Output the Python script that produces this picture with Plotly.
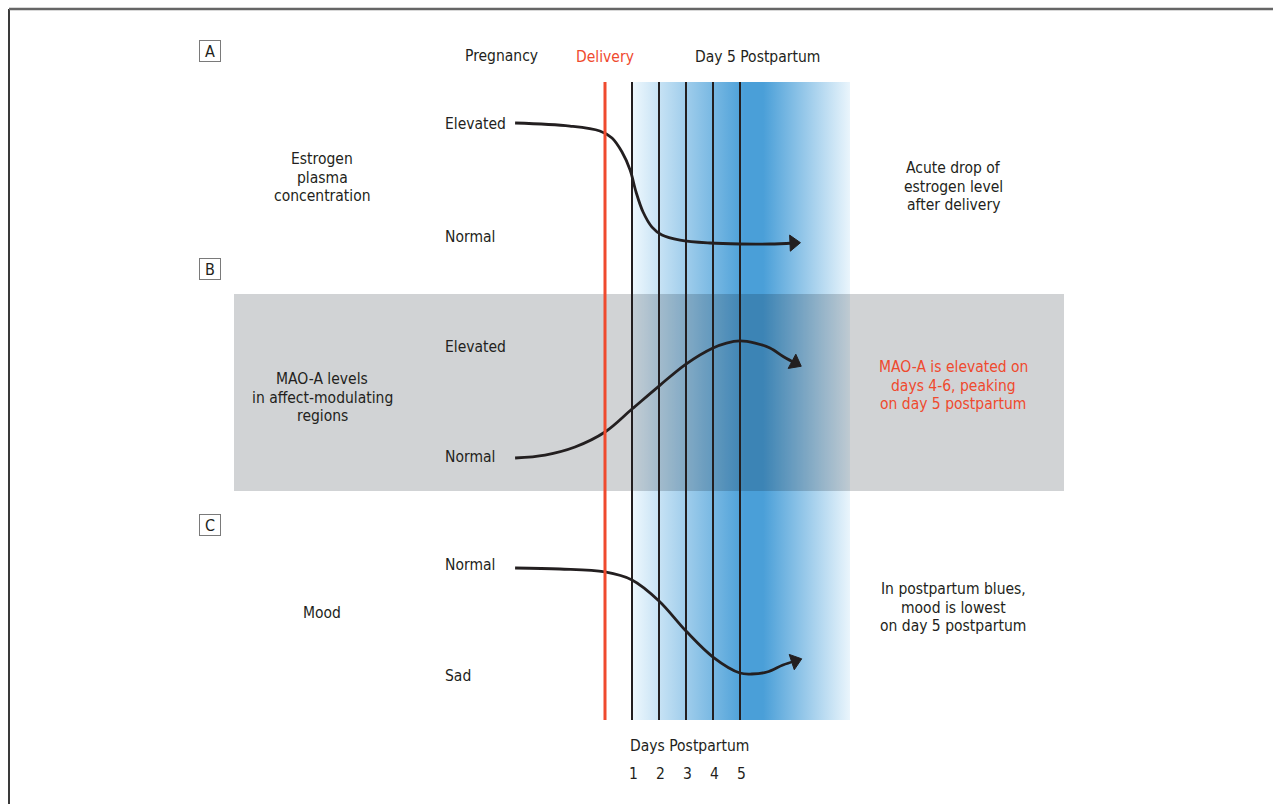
import plotly.graph_objects as go

W, H = 1273, 804

# ---------------- data ----------------
day_ticks = [1, 2, 3, 4, 5]
panel_letters = ["A", "B", "C"]

# Panel A: estrogen plasma concentration (level: 0 = Normal, 1 = Elevated)
estrogen_days = [-3.33, -1.30, -0.19, 0.26, 0.63, 0.93, 1.15, 1.41, 1.74, 2.11, 2.78, 3.89, 5.0, 6.11, 6.98]
estrogen_level = [1.009, 0.982, 0.938, 0.876, 0.752, 0.593, 0.398, 0.221, 0.088, 0.018, -0.027, -0.053, -0.062, -0.062, -0.053]

# Panel B: MAO-A levels (level: 0 = Normal, 1 = Elevated)
maoa_days = [-3.33, -2.22, -1.11, 0.0, 1.0, 2.0, 3.0, 4.0, 4.5, 5.0, 5.56, 6.11, 6.63, 7.04]
maoa_level = [-0.009, 0.018, 0.091, 0.227, 0.436, 0.645, 0.845, 0.991, 1.036, 1.055, 1.036, 0.991, 0.909, 0.855]

# Panel C: mood (level: 0 = Sad, 1 = Normal)
mood_days = [-3.33, -1.67, 0.0, 1.0, 2.0, 3.0, 4.0, 5.0, 5.44, 6.0, 6.59, 7.04]
mood_level = [0.973, 0.964, 0.937, 0.865, 0.676, 0.405, 0.171, 0.027, 0.018, 0.036, 0.099, 0.135]

level_labels = [["Elevated", "Normal"], ["Elevated", "Normal"], ["Normal", "Sad"]]
left_titles = [
    ["Estrogen", "plasma", "concentration"],
    ["MAO-A levels", "in affect-modulating", "regions"],
    ["Mood"],
]
right_notes = [
    ["Acute drop of", "estrogen level", "after delivery"],
    ["MAO-A is elevated on", "days 4-6, peaking", "on day 5 postpartum"],
    ["In postpartum blues,", "mood is lowest", "on day 5 postpartum"],
]

# ---------------- layout helpers ----------------
DELIVERY_PX = 605.0
DAY_PX = 27.0


def day(px):
    return (px - DELIVERY_PX) / DAY_PX


def fx(px):
    return px / W


def fy(py):
    return 1 - py / H


FONT = "Liberation Sans Narrow, Arial Narrow, DejaVu Sans Condensed, sans-serif"
INK = "#231f20"
RED = "#ef4a2e"
FS = 15.5

# pixel rows of level 1 / level 0 for each panel
panel_px = [(124, 237), (347, 457), (565, 676)]
left_title_y = [159, 379, 613]
right_note_y = [168, 367, 589]
letter_y = [51, 269, 525]

fig = go.Figure()

# blue gradient band (days 1 .. ~9), on the base (pixel-row) axis
g_left, g_right = day(633), day(850)
fig.add_trace(go.Scatter(
    x=[g_left, g_right, g_right, g_left, g_left],
    y=[82, 82, 720, 720, 82],
    xaxis="x", yaxis="y",
    mode="lines", line=dict(width=0), fill="toself",
    fillgradient=dict(type="horizontal", start=g_left, stop=g_right,
                      colorscale=[[0, "#edf7fd"], [0.515, "#4a9fd8"],
                                  [0.60, "#4a9fd8"], [1, "#eaf5fc"]]),
    hoverinfo="skip", showlegend=False))

# gray band of panel B (translucent, darkens blue underneath)
b_l, b_r = day(234), day(1064)
fig.add_trace(go.Scatter(
    x=[b_l, b_r, b_r, b_l, b_l], y=[294, 294, 491, 491, 294],
    xaxis="x", yaxis="y", mode="lines", line=dict(width=0),
    fill="toself", fillcolor="rgba(0,10,22,0.18)",
    hoverinfo="skip", showlegend=False))

series = [(estrogen_days, estrogen_level, "y2"),
          (maoa_days, maoa_level, "y3"),
          (mood_days, mood_level, "y4")]
for xs, ys, ax in series:
    n = len(xs)
    fig.add_trace(go.Scatter(
        x=xs, y=ys, xaxis="x", yaxis=ax, mode="lines+markers",
        line=dict(color=INK, width=2.8, shape="spline", smoothing=1.0),
        marker=dict(symbol="triangle-up", angleref="previous",
                    size=[0] * (n - 1) + [14], color=INK,
                    line=dict(width=1, color=INK), opacity=1),
        hoverinfo="skip", showlegend=False))

shapes = []
# frame
shapes.append(dict(type="line", xref="paper", yref="paper", x0=fx(9), x1=fx(9),
                   y0=0, y1=fy(9), line=dict(color="#3a3a3a", width=2)))
shapes.append(dict(type="line", xref="paper", yref="paper", x0=fx(9), x1=1,
                   y0=fy(9), y1=fy(9), line=dict(color="#666666", width=2.5)))
# delivery line
shapes.append(dict(type="line", xref="x", yref="paper", x0=0, x1=0,
                   y0=fy(720), y1=fy(82), line=dict(color=RED, width=3),
                   layer="above"))
for d in day_ticks:
    shapes.append(dict(type="line", xref="x", yref="paper", x0=d, x1=d,
                       y0=fy(720), y1=fy(82), line=dict(color=INK, width=2),
                       layer="above"))

ann = []


def text(px, py, s, color=INK, anchor="center", size=FS):
    ann.append(dict(xref="paper", yref="paper", x=fx(px), y=fy(py), text=s,
                    showarrow=False, xanchor=anchor, yanchor="middle",
                    font=dict(family=FONT, size=size, color=color)))


def lines(px, py0, items, color=INK, spacing=18.5):
    for i, s in enumerate(items):
        text(px, py0 + i * spacing, s, color=color)


text(501, 56, "Pregnancy")
text(605, 57, "Delivery", color=RED)
text(757, 57, "Day 5 Postpartum")

yaxes = {"yaxis": dict(domain=[0, 1], range=[H, 0], visible=False,
                       fixedrange=True, anchor="x")}
for i in range(3):
    p1, p0 = panel_px[i]
    span = p0 - p1
    name = f"yaxis{i + 2}"
    yaxes[name] = dict(range=[(p0 - H) / span, p0 / span],
                       visible=False, fixedrange=True, anchor="x",
                       overlaying="y")
    yref = f"y{i + 2}"
    for lvl, lab in zip([1, 0], level_labels[i]):
        ann.append(dict(xref="x", yref=yref, x=day(443), y=lvl, text=lab,
                        showarrow=False, xanchor="left", yanchor="middle",
                        font=dict(family=FONT, size=FS, color=INK)))
    lines(322, left_title_y[i], left_titles[i])
    lines(953, right_note_y[i], right_notes[i], color=RED if i == 1 else INK)
    ann.append(dict(xref="paper", yref="paper", x=fx(210), y=fy(letter_y[i]),
                    text=panel_letters[i], showarrow=False,
                    xanchor="center", yanchor="middle",
                    width=20, height=20, borderwidth=1, bordercolor="#7a7a7a",
                    borderpad=0,
                    font=dict(family=FONT, size=16, color=INK)))

text(689, 746, "Days Postpartum")
for d in day_ticks:
    ann.append(dict(xref="x", yref="paper", x=d + 0.07, y=fy(774), text=str(d),
                    showarrow=False, xanchor="center", yanchor="middle",
                    font=dict(family=FONT, size=FS, color=INK)))

fig.update_layout(
    width=W, height=H, margin=dict(l=0, r=0, t=0, b=0),
    paper_bgcolor="white", plot_bgcolor="rgba(0,0,0,0)",
    xaxis=dict(range=[day(0), day(W)], visible=False, fixedrange=True),
    shapes=shapes, annotations=ann, showlegend=False,
    **yaxes,
)

fig.write_html("out.html", config={"displayModeBar": False},
               post_script="document.body.style.margin='0';document.body.style.overflow='hidden';")
